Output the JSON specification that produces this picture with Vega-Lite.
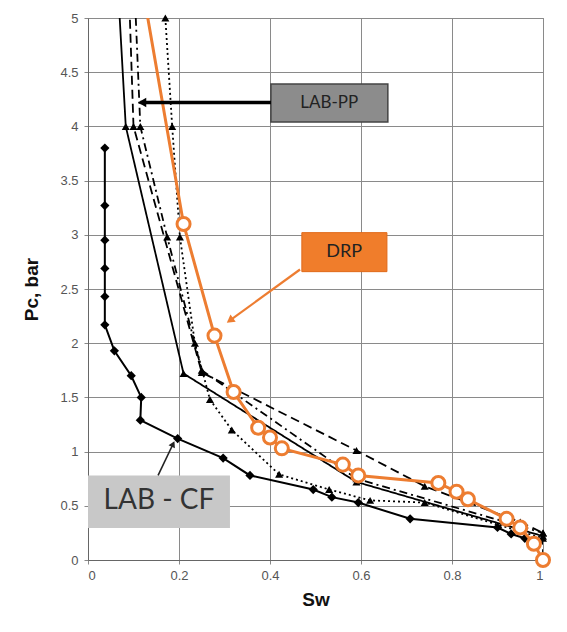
{
  "$schema": "https://vega.github.io/schema/vega-lite/v6.json",
  "width": 455,
  "height": 542,
  "autosize": {"type": "none"},
  "padding": {"left": 88, "top": 18, "right": 24, "bottom": 72},
  "background": "white",
  "config": {
    "view": {"stroke": "#777", "strokeWidth": 1},
    "axis": {
      "labelFont": "Liberation Sans",
      "labelFontSize": 13,
      "labelColor": "#555",
      "titleFont": "Liberation Sans",
      "titleFontSize": 19,
      "titleFontWeight": "bold",
      "titleColor": "#111",
      "gridColor": "#8a8a8a",
      "gridWidth": 1,
      "gridOpacity": 1,
      "domainColor": "#666",
      "tickColor": "#888",
      "tickSize": 4
    }
  },
  "datasets": {
    "curves": [
      {"s": "PP-a", "sw": 0.063, "pc": 5.5},
      {"s": "PP-a", "sw": 0.083, "pc": 4.0},
      {"s": "PP-a", "sw": 0.21, "pc": 1.72},
      {"s": "PP-a", "sw": 0.59, "pc": 0.72},
      {"s": "PP-a", "sw": 1.0, "pc": 0.22},
      {"s": "PP-b", "sw": 0.088, "pc": 5.5},
      {"s": "PP-b", "sw": 0.1, "pc": 4.0},
      {"s": "PP-b", "sw": 0.25, "pc": 1.73},
      {"s": "PP-b", "sw": 0.59, "pc": 1.01},
      {"s": "PP-b", "sw": 0.74, "pc": 0.68},
      {"s": "PP-b", "sw": 0.95, "pc": 0.35},
      {"s": "PP-b", "sw": 1.0, "pc": 0.25},
      {"s": "PP-b", "sw": 1.0, "pc": 0.0},
      {"s": "PP-c", "sw": 0.1, "pc": 5.5},
      {"s": "PP-c", "sw": 0.115, "pc": 4.0},
      {"s": "PP-c", "sw": 0.174, "pc": 2.98},
      {"s": "PP-c", "sw": 0.25, "pc": 1.75},
      {"s": "PP-c", "sw": 0.59, "pc": 0.75},
      {"s": "PP-c", "sw": 1.0, "pc": 0.25},
      {"s": "PP-d", "sw": 0.17, "pc": 5.0},
      {"s": "PP-d", "sw": 0.185, "pc": 4.0},
      {"s": "PP-d", "sw": 0.202, "pc": 2.98},
      {"s": "PP-d", "sw": 0.235, "pc": 2.0},
      {"s": "PP-d", "sw": 0.268, "pc": 1.48},
      {"s": "PP-d", "sw": 0.316, "pc": 1.2},
      {"s": "PP-d", "sw": 0.42, "pc": 0.79},
      {"s": "PP-d", "sw": 0.53, "pc": 0.65},
      {"s": "PP-d", "sw": 0.62, "pc": 0.55},
      {"s": "PP-d", "sw": 0.74, "pc": 0.53},
      {"s": "PP-d", "sw": 1.0, "pc": 0.2},
      {"s": "CF", "sw": 0.037, "pc": 3.8},
      {"s": "CF", "sw": 0.037, "pc": 3.27},
      {"s": "CF", "sw": 0.037, "pc": 2.95},
      {"s": "CF", "sw": 0.037, "pc": 2.69},
      {"s": "CF", "sw": 0.037, "pc": 2.43},
      {"s": "CF", "sw": 0.037, "pc": 2.17},
      {"s": "CF", "sw": 0.058, "pc": 1.93},
      {"s": "CF", "sw": 0.095, "pc": 1.7},
      {"s": "CF", "sw": 0.117, "pc": 1.5},
      {"s": "CF", "sw": 0.115, "pc": 1.29},
      {"s": "CF", "sw": 0.197, "pc": 1.12},
      {"s": "CF", "sw": 0.297, "pc": 0.94},
      {"s": "CF", "sw": 0.356, "pc": 0.78},
      {"s": "CF", "sw": 0.495, "pc": 0.65},
      {"s": "CF", "sw": 0.536, "pc": 0.58},
      {"s": "CF", "sw": 0.594, "pc": 0.53},
      {"s": "CF", "sw": 0.708, "pc": 0.38},
      {"s": "CF", "sw": 0.9, "pc": 0.3},
      {"s": "CF", "sw": 0.93, "pc": 0.24},
      {"s": "CF", "sw": 0.96, "pc": 0.2},
      {"s": "CF", "sw": 1.0, "pc": 0.18},
      {"s": "DRP", "sw": 0.09, "pc": 6.0},
      {"s": "DRP", "sw": 0.21, "pc": 3.1},
      {"s": "DRP", "sw": 0.278, "pc": 2.07},
      {"s": "DRP", "sw": 0.32, "pc": 1.55},
      {"s": "DRP", "sw": 0.374, "pc": 1.22},
      {"s": "DRP", "sw": 0.4, "pc": 1.13},
      {"s": "DRP", "sw": 0.426, "pc": 1.03},
      {"s": "DRP", "sw": 0.56, "pc": 0.88},
      {"s": "DRP", "sw": 0.594, "pc": 0.78},
      {"s": "DRP", "sw": 0.77, "pc": 0.71},
      {"s": "DRP", "sw": 0.81, "pc": 0.63},
      {"s": "DRP", "sw": 0.835, "pc": 0.56},
      {"s": "DRP", "sw": 0.92, "pc": 0.38},
      {"s": "DRP", "sw": 0.95, "pc": 0.3},
      {"s": "DRP", "sw": 0.98, "pc": 0.15},
      {"s": "DRP", "sw": 1.0, "pc": 0.0}
    ],
    "boxes": [
      {"b": "LAB-PP", "sw": 0.402, "sw2": 0.659, "pc": 4.39, "pc2": 4.04},
      {"b": "DRP", "sw": 0.47, "sw2": 0.657, "pc": 3.02, "pc2": 2.66},
      {"b": "LAB - CF", "sw": 0.0, "sw2": 0.312, "pc": 0.78, "pc2": 0.295}
    ],
    "labels": [
      {"b": "LAB-PP", "sw": 0.53, "pc": 4.215},
      {"b": "DRP", "sw": 0.563, "pc": 2.84},
      {"b": "LAB - CF", "sw": 0.156, "pc": 0.54}
    ],
    "arrows": [
      {"b": "LAB-PP", "sw": 0.402, "pc": 4.22, "sw2": 0.115, "pc2": 4.22},
      {"b": "DRP", "sw": 0.466, "pc": 2.68, "sw2": 0.312, "pc2": 2.21},
      {"b": "LAB - CF", "sw": 0.154, "pc": 0.78, "sw2": 0.187, "pc2": 1.07}
    ],
    "heads": [
      {"b": "LAB-PP", "sw": 0.119, "pc": 4.22},
      {"b": "DRP", "sw": 0.312, "pc": 2.21},
      {"b": "LAB - CF", "sw": 0.187, "pc": 1.07}
    ]
  },
  "encoding": {
    "x": {
      "field": "sw", "type": "quantitative",
      "scale": {"domain": [0, 1], "nice": false},
      "axis": {"title": "Sw", "values": [0, 0.2, 0.4, 0.6, 0.8, 1], "format": "~g", "labelPadding": 5, "titlePadding": 8, "grid": true}
    },
    "y": {
      "field": "pc", "type": "quantitative",
      "scale": {"domain": [0, 5], "nice": false},
      "axis": {"title": "Pc, bar", "values": [0, 0.5, 1, 1.5, 2, 2.5, 3, 3.5, 4, 4.5, 5], "format": "~g", "labelPadding": 6, "titlePadding": 18, "grid": true}
    }
  },
  "layer": [
    {
      "data": {"name": "curves"},
      "transform": [{"filter": "datum.s === 'CF'"}],
      "mark": {"type": "line", "color": "black", "strokeWidth": 2, "clip": true},
      "encoding": {"order": {"value": null}}
    },
    {
      "data": {"name": "curves"},
      "transform": [{"filter": "datum.s === 'CF'"}],
      "mark": {"type": "point", "shape": "diamond", "filled": true, "color": "black", "size": 85, "opacity": 1, "clip": true}
    },
    {
      "data": {"name": "curves"},
      "transform": [{"filter": "indexof(datum.s, 'PP') === 0"}],
      "mark": {"type": "line", "color": "black", "strokeWidth": 1.8, "clip": true},
      "encoding": {
        "order": {"value": null},
        "detail": {"field": "s"},
        "strokeDash": {"field": "s", "type": "nominal", "legend": null,
          "scale": {"domain": ["PP-a", "PP-b", "PP-c", "PP-d"], "range": [[1, 0], [9, 5], [8, 4, 2, 4], [2, 3]]}}
      }
    },
    {
      "data": {"name": "curves"},
      "transform": [{"filter": "indexof(datum.s, 'PP') === 0 && datum.pc <= 5"}],
      "mark": {"type": "point", "shape": "triangle-up", "filled": true, "color": "black", "size": 65, "opacity": 1}
    },
    {
      "data": {"name": "curves"},
      "transform": [{"filter": "datum.s === 'DRP'"}],
      "mark": {"type": "line", "color": "#ED7D31", "strokeWidth": 3, "clip": true},
      "encoding": {"order": {"value": null}}
    },
    {
      "data": {"name": "curves"},
      "transform": [{"filter": "datum.s === 'DRP' && datum.pc <= 5"}],
      "mark": {"type": "point", "shape": "circle", "filled": true, "fill": "white", "stroke": "#ED7D31", "strokeWidth": 3, "size": 170, "opacity": 1}
    },
    {
      "data": {"name": "boxes"},
      "transform": [{"filter": "datum.b === 'LAB-PP'"}],
      "mark": {"type": "rect", "fill": "#8c8c8c", "stroke": "#444", "strokeWidth": 1.5},
      "encoding": {"x2": {"field": "sw2"}, "y2": {"field": "pc2"}}
    },
    {
      "data": {"name": "boxes"},
      "transform": [{"filter": "datum.b === 'DRP'"}],
      "mark": {"type": "rect", "fill": "#F07D2B", "stroke": "#E06A1A", "strokeWidth": 1},
      "encoding": {"x2": {"field": "sw2"}, "y2": {"field": "pc2"}}
    },
    {
      "data": {"name": "boxes"},
      "transform": [{"filter": "datum.b === 'LAB - CF'"}],
      "mark": {"type": "rect", "fill": "#c8c8c8"},
      "encoding": {"x2": {"field": "sw2"}, "y2": {"field": "pc2"}}
    },
    {
      "data": {"name": "arrows"},
      "transform": [{"filter": "datum.b === 'LAB-PP'"}],
      "mark": {"type": "rule", "color": "black", "strokeWidth": 3.5},
      "encoding": {"x2": {"field": "sw2"}, "y2": {"field": "pc2"}}
    },
    {
      "data": {"name": "arrows"},
      "transform": [{"filter": "datum.b === 'DRP'"}],
      "mark": {"type": "rule", "color": "#ED7D31", "strokeWidth": 2.2},
      "encoding": {"x2": {"field": "sw2"}, "y2": {"field": "pc2"}}
    },
    {
      "data": {"name": "arrows"},
      "transform": [{"filter": "datum.b === 'LAB - CF'"}],
      "mark": {"type": "rule", "color": "#222", "strokeWidth": 1.6},
      "encoding": {"x2": {"field": "sw2"}, "y2": {"field": "pc2"}}
    },
    {
      "data": {"name": "heads"},
      "transform": [{"filter": "datum.b === 'LAB-PP'"}],
      "mark": {"type": "point", "shape": "triangle-up", "angle": 270, "filled": true, "color": "black", "size": 90, "opacity": 1}
    },
    {
      "data": {"name": "heads"},
      "transform": [{"filter": "datum.b === 'DRP'"}],
      "mark": {"type": "point", "shape": "triangle-up", "angle": 234, "filled": true, "color": "#ED7D31", "size": 80, "opacity": 1}
    },
    {
      "data": {"name": "heads"},
      "transform": [{"filter": "datum.b === 'LAB - CF'"}],
      "mark": {"type": "point", "shape": "triangle-up", "angle": 26, "filled": true, "color": "#222", "size": 50, "opacity": 1}
    },
    {
      "data": {"name": "labels"},
      "transform": [{"filter": "datum.b === 'LAB-PP'"}],
      "mark": {"type": "text", "font": "Lato", "fontSize": 17, "color": "#222", "align": "center", "baseline": "middle"},
      "encoding": {"text": {"field": "b"}}
    },
    {
      "data": {"name": "labels"},
      "transform": [{"filter": "datum.b === 'DRP'"}],
      "mark": {"type": "text", "font": "Lato", "fontSize": 18, "color": "#222", "align": "center", "baseline": "middle"},
      "encoding": {"text": {"field": "b"}}
    },
    {
      "data": {"name": "labels"},
      "transform": [{"filter": "datum.b === 'LAB - CF'"}],
      "mark": {"type": "text", "font": "Lato", "fontSize": 28, "color": "#333", "align": "center", "baseline": "middle"},
      "encoding": {"text": {"field": "b"}}
    }
  ]
}
